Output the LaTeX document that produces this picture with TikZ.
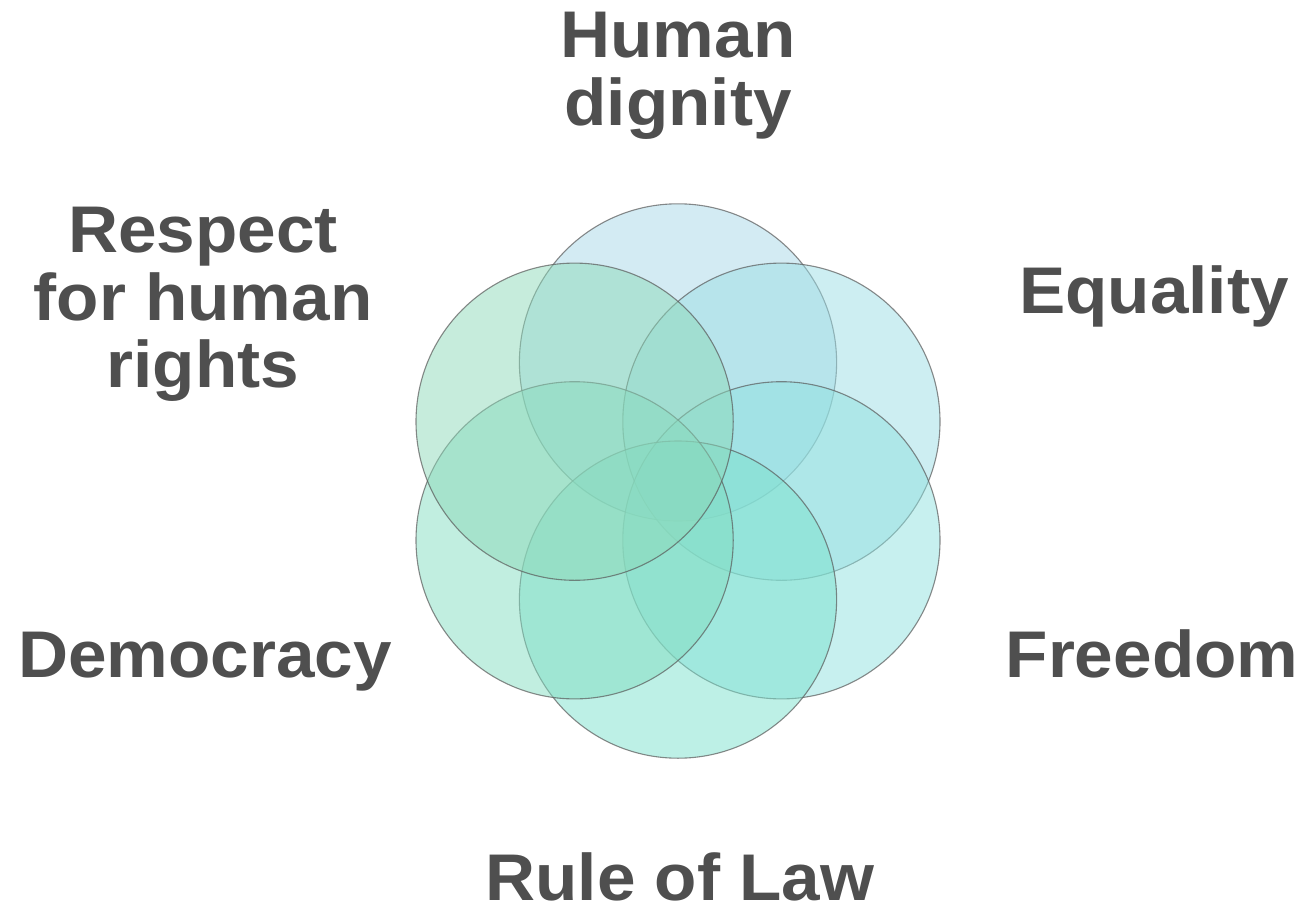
\documentclass[tikz,border=0pt]{standalone}
\usepackage{fontspec}
\setmainfont{Liberation Sans}
\newfontfamily\lblfont{Liberation Sans}[FakeStretch=1.05]
\definecolor{txt}{HTML}{4F4F4F}
\definecolor{cA}{RGB}{167,215,231}
\definecolor{cB}{RGB}{155,221,229}
\definecolor{cC}{RGB}{143,225,223}
\definecolor{cD}{RGB}{123,225,205}
\definecolor{cE}{RGB}{131,221,193}
\definecolor{cF}{RGB}{141,217,185}
\begin{document}
\begin{tikzpicture}[x=1pt,y=-1pt,
  petal/.style={circle, inner sep=0pt, minimum size=317.2pt, fill opacity=0.5,
    draw=black!65, draw opacity=0.7, line width=1.1pt},
  lbl/.style={inner sep=0pt, text=txt,
    font=\lblfont\bfseries\fontsize{66}{67.5}\selectfont},
  mlbl/.style={lbl, align=center}]
\useasboundingbox (0,0) rectangle (1306,915);
\node[petal, fill=cA] (c1) at (678,362.4) {};
\node[petal, fill=cB] (c2) at (781.4,421.7) {};
\node[petal, fill=cC] (c3) at (781.4,540.3) {};
\node[petal, fill=cD] (c4) at (678,599.6) {};
\node[petal, fill=cE] (c5) at (574.6,540.3) {};
\node[petal, fill=cF] (c6) at (574.6,421.7) {};
\node[mlbl, anchor=north] (hd) at (678,12) {Human\\dignity};
\node[lbl, anchor=base] (eq) at (1154,313) {Equality};
\node[lbl, anchor=base] (fr) at (1152,677) {Freedom};
\node[lbl, anchor=base] (rl) at (680,900) {Rule of Law};
\node[lbl, anchor=base] (de) at (205,677) {Democracy};
\node[mlbl, anchor=north] (rh) at (203,207) {Respect\\for human\\rights};
\end{tikzpicture}
\end{document}
